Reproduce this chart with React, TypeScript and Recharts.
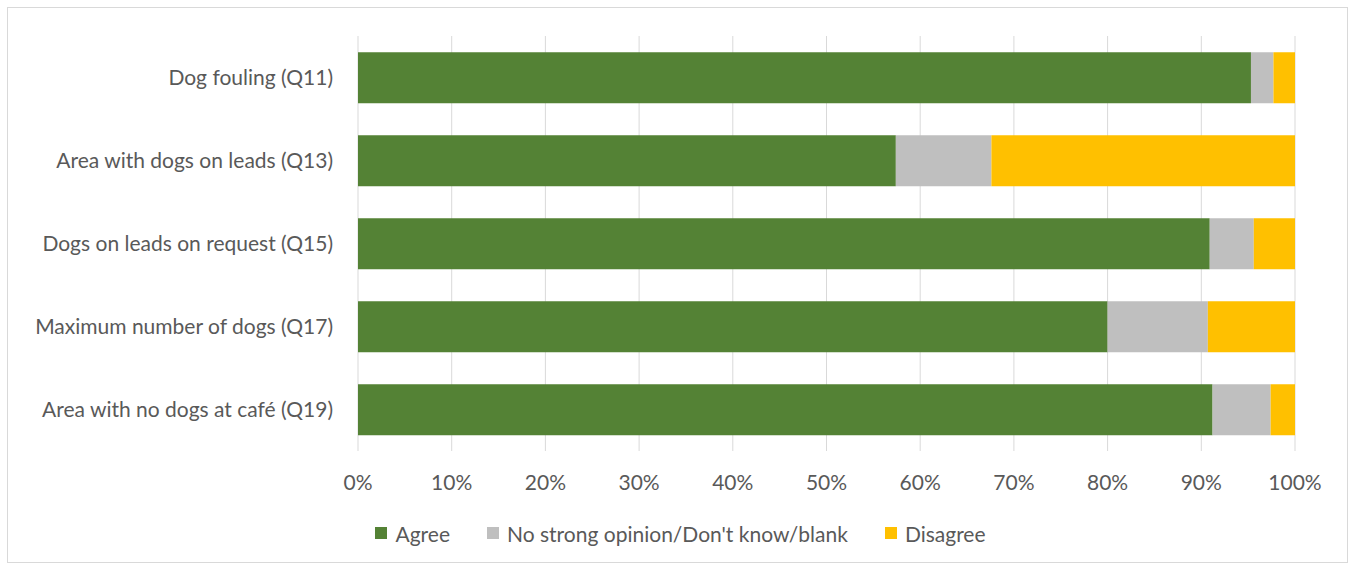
import React from "react";
import { BarChart, Bar, XAxis, YAxis, CartesianGrid } from "recharts";

const categories = [
  "Dog fouling (Q11)",
  "Area with dogs on leads (Q13)",
  "Dogs on leads on request (Q15)",
  "Maximum number of dogs (Q17)",
  "Area with no dogs at café (Q19)",
];
const agree = [0.953, 0.574, 0.909, 0.8, 0.912];
const noOpinion = [0.024, 0.102, 0.047, 0.107, 0.062];
const disagree = [0.023, 0.324, 0.044, 0.093, 0.026];
const xTicks = [0, 0.1, 0.2, 0.3, 0.4, 0.5, 0.6, 0.7, 0.8, 0.9, 1];
const seriesNames = ["Agree", "No strong opinion/Don't know/blank", "Disagree"];
const colors = ["#548235", "#bfbfbf", "#ffc000"];

const data = categories.map((name, i) => ({
  name,
  agree: agree[i],
  noOpinion: noOpinion[i],
  disagree: disagree[i],
}));

const FONT = "Lato, 'Noto Sans', sans-serif";
const TEXT = "#595959";
const FS = 21;

export default function App() {
  return (
    <div
      style={{
        position: "absolute",
        left: 0,
        top: 0,
        width: 1356,
        height: 567,
        background: "#fff",
      }}
    >
      <div
        style={{
          position: "absolute",
          left: 7,
          top: 7,
          width: 1341,
          height: 556,
          border: "1px solid #d9d9d9",
          boxSizing: "border-box",
        }}
      />
      <div style={{ position: "absolute", left: 0, top: 0 }}>
        <BarChart
          width={1356}
          height={567}
          data={data}
          layout="vertical"
          margin={{ top: 36, right: 61, bottom: 0, left: 0 }}
          barCategoryGap="19.5%"
        >
          <CartesianGrid horizontal={false} vertical={true} stroke="#d9d9d9" />
          <XAxis
            type="number"
            domain={[0, 1]}
            ticks={xTicks}
            tickFormatter={(v: number) => `${Math.round(v * 100)}%`}
            axisLine={false}
            tickLine={false}
            height={116}
            tick={{ fill: TEXT, fontSize: FS, fontFamily: FONT }}
            tickMargin={18}
            interval={0}
          />
          <YAxis
            type="category"
            dataKey="name"
            width={358}
            axisLine={false}
            tickLine={false}
            tick={{ fill: TEXT, fontSize: FS, fontFamily: FONT }}
            tickMargin={19}
          />
          <Bar dataKey="agree" stackId="a" fill={colors[0]} name={seriesNames[0]} isAnimationActive={false} />
          <Bar dataKey="noOpinion" stackId="a" fill={colors[1]} name={seriesNames[1]} isAnimationActive={false} />
          <Bar dataKey="disagree" stackId="a" fill={colors[2]} name={seriesNames[2]} isAnimationActive={false} />
        </BarChart>
      </div>
      <div
        style={{
          position: "absolute",
          left: 0,
          width: 1361,
          top: 519,
          height: 28,
          display: "flex",
          justifyContent: "center",
          alignItems: "center",
          fontFamily: FONT,
          fontSize: FS,
          color: TEXT,
          gap: 37,
        }}
      >
        {seriesNames.map((n, i) => (
          <div key={n} style={{ display: "flex", alignItems: "center" }}>
            <span
              style={{
                display: "inline-block",
                width: 12,
                height: 12,
                background: colors[i],
                marginRight: 8,
              }}
            />
            <span>{n}</span>
          </div>
        ))}
      </div>
    </div>
  );
}
